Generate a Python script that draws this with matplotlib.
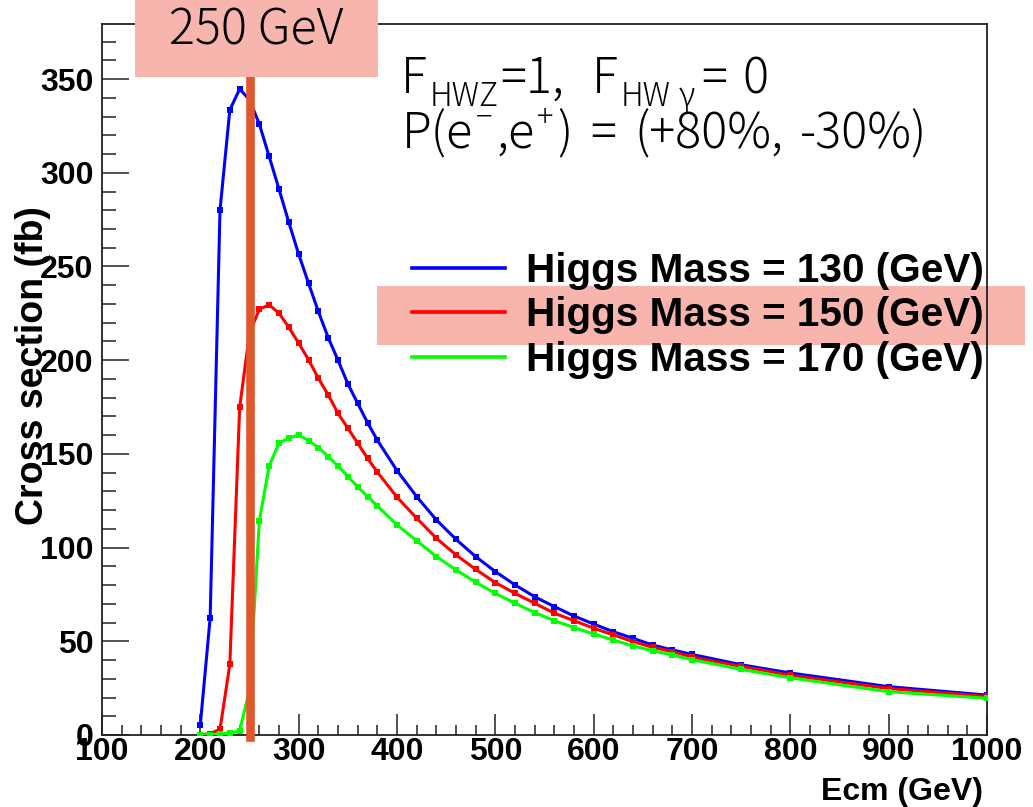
import matplotlib
matplotlib.use('Agg')
import matplotlib.pyplot as plt
from matplotlib.lines import Line2D
from matplotlib.patches import Rectangle
from matplotlib.ticker import MultipleLocator

# ---------------- data ----------------
ecm = [200, 210, 220, 230, 240, 250, 260, 270, 280, 290, 300, 310, 320, 330,
       340, 350, 360, 370, 380, 400, 420, 440, 460, 480, 500, 520, 540, 560,
       580, 600, 620, 640, 660, 680, 700, 750, 800, 900, 1000]

xs_mh130 = [5.5, 62.6, 280.0, 333.6, 344.7, 339.0, 326.0, 308.7, 291.3, 273.5,
            256.6, 241.1, 226.0, 212.1, 200.0, 187.4, 177.0, 166.7, 157.3,
            141.1, 127.2, 114.8, 104.4, 95.2, 87.2, 80.1, 73.8, 68.5, 63.5,
            59.2, 55.1, 51.6, 48.0, 45.4, 43.0, 37.5, 33.1, 25.8, 21.3]

xs_mh150 = [0.0, 0.8, 3.0, 37.7, 174.9, 214.4, 227.2, 229.5, 225.1, 217.5,
            209.1, 200.3, 190.4, 181.5, 171.7, 163.7, 155.7, 147.7, 140.3,
            126.9, 115.7, 105.0, 96.1, 88.4, 81.3, 75.6, 70.3, 65.0, 61.0,
            57.0, 53.4, 49.8, 46.8, 44.5, 41.6, 36.6, 31.9, 24.8, 20.6]

xs_mh170 = [0.0, 0.2, 0.5, 1.0, 2.3, 24.0, 114.2, 143.6, 155.7, 158.5,
            160.1, 157.1, 153.4, 148.6, 143.6, 137.9, 132.5, 127.2, 122.3,
            112.1, 103.7, 95.2, 88.1, 81.5, 75.6, 70.3, 65.3, 61.0, 57.3,
            53.9, 50.7, 47.5, 45.0, 42.7, 40.2, 35.0, 30.5, 23.1, 19.6]

series_labels = ["Higgs Mass = 130 (GeV)", "Higgs Mass = 150 (GeV)",
                 "Higgs Mass = 170 (GeV)"]
series_colors = ["#0000ff", "#ff0000", "#00ff00"]
marker_energy = 250  # GeV

# ---------------- figure ----------------
W, H = 1033, 807
fig = plt.figure(figsize=(W / 100, H / 100), dpi=100)
fig.patch.set_facecolor('white')


def fx(px):
    return px / W


def fy(py):
    return 1 - py / H


ax = fig.add_axes([fx(102), fy(735), (987 - 102) / W, (735 - 24) / H])
ax.set_facecolor('none')

bold = dict(family='Liberation Sans', weight='bold')

for ys, col in zip([xs_mh130, xs_mh150, xs_mh170], series_colors):
    ax.plot(ecm, ys, color=col, lw=2.2, marker='s', ms=4.6, mew=0,
            zorder=4)

ax.set_xlim(100, 1000)
ax.set_ylim(0, 379.4)
ax.xaxis.set_major_locator(MultipleLocator(100))
ax.xaxis.set_minor_locator(MultipleLocator(20))
ax.yaxis.set_major_locator(MultipleLocator(50))
ax.yaxis.set_minor_locator(MultipleLocator(10))

for sp in ax.spines.values():
    sp.set_linewidth(1.3)
    sp.set_color('#222222')

ax.tick_params(axis='x', which='major', direction='in', length=15, width=1.1,
               pad=1.5, labelsize=23, colors='#222222', labelcolor='black')
ax.tick_params(axis='x', which='minor', direction='in', length=7.2, width=1.1,
               colors='#222222')
ax.tick_params(axis='y', which='major', direction='in', length=19.4, width=1.1,
               pad=6, labelsize=23, colors='#222222', labelcolor='black')
ax.tick_params(axis='y', which='minor', direction='in', length=10, width=1.1,
               colors='#222222')
for lab in ax.get_xticklabels() + ax.get_yticklabels():
    lab.set_fontfamily('Liberation Sans')
    lab.set_fontweight('bold')

ax.set_ylabel('Cross section (fb)', fontsize=27, **bold)
ax.yaxis.set_label_coords(-0.058, 0.52)
ax.set_xlabel('Ecm (GeV)', fontsize=23, ha='right', **bold)
ax.xaxis.set_label_coords(0.996, -0.059)

# vertical marker line at 250 GeV
ax.axvline(marker_energy, ymin=-0.003, ymax=0.925, color='#e0572b', lw=6.2,
           clip_on=False, zorder=10)

# legend
handles = [Line2D([], [], color=c, lw=2.6) for c in series_colors]
leg = ax.legend(handles, series_labels, loc='upper left',
                bbox_to_anchor=(fx(412), fy(252)), bbox_transform=fig.transFigure,
                frameon=False, prop=dict(family='Liberation Sans', weight='bold',
                                         size=29.2),
                handlelength=2.3, handletextpad=0.5, labelspacing=0.16,
                borderpad=0, borderaxespad=0)

# highlight rectangles
fig.add_artist(Rectangle((fx(377), fy(345)), (1025 - 377) / W, (345 - 286) / H,
                         transform=fig.transFigure, facecolor='#f7b5ae',
                         edgecolor='none', zorder=-1))
fig.add_artist(Rectangle((fx(135), fy(77)), (378 - 135) / W, 77 / H,
                         transform=fig.transFigure, facecolor='#f7b5ae',
                         edgecolor='none', zorder=3))

anno_font = ['Noto Sans CJK JP', 'DejaVu Sans']
fig.text(fx(256), fy(31), '250 GeV', fontsize=35, family=anno_font,
         weight='light', ha='center', va='center', zorder=4)

renderer = fig.canvas.get_renderer()


def seq(x0, base_px, segs):
    x = x0
    for s, size, dy, gap in segs:
        x += gap
        t = fig.text(fx(x), fy(base_px + dy), s, fontsize=size, family=anno_font,
                     weight='light', ha='left', va='baseline', zorder=4)
        bb = t.get_window_extent(renderer)
        x += bb.width


seq(401, 93, [("F", 35, 0, 0), ("HWZ", 23, 13, 3), ("=1,", 35, 0, 1),
              ("F", 35, 0, 28), ("HW", 23, 13, 3), ("γ", 23, 13, 8),
              ("=", 35, 0, 6), ("0", 35, 0, 16)])
seq(402, 148, [("P(e", 35, 0, 0), ("−", 22, -21, 3), (",e", 35, 0, 4),
               ("+", 22, -21, 2), (")", 35, 0, 4),
               ("=", 35, 0, 18), ("(+80%,", 35, 0, 18),
               ("-30%)", 35, 0, 16)])

fig.savefig('out.png', dpi=100)
